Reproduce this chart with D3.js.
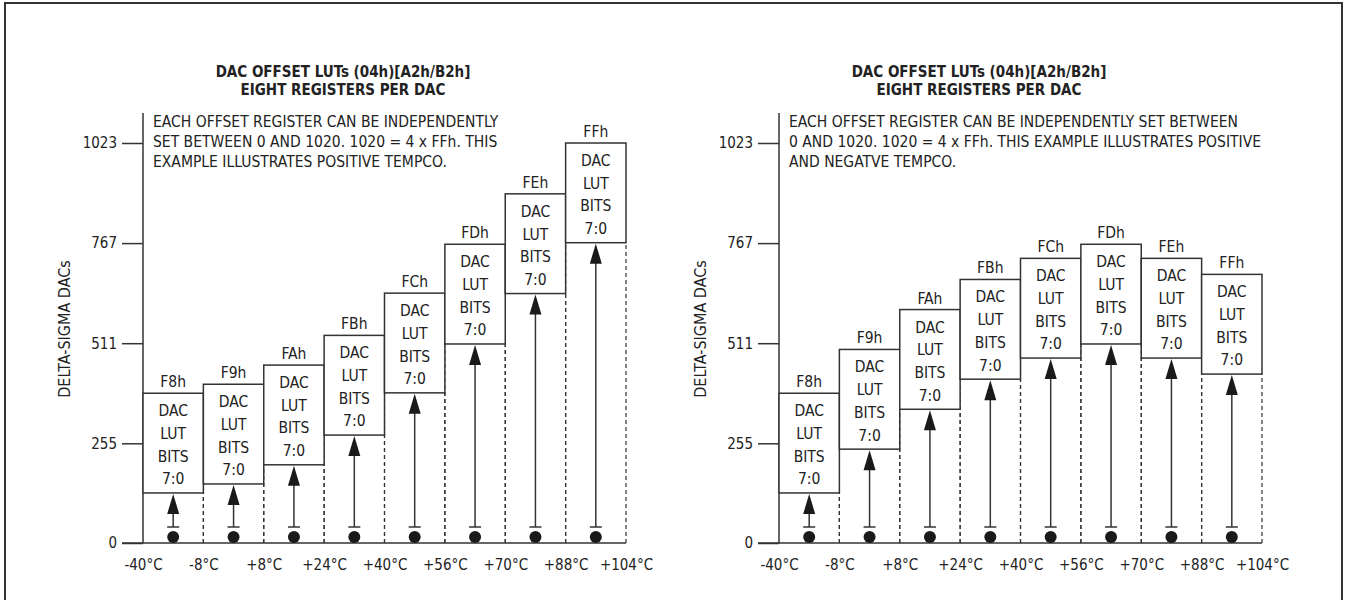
<!DOCTYPE html>
<html>
<head>
<meta charset="utf-8">
<script src="https://cdn.jsdelivr.net/npm/d3@7"></script>
<style>
  body { margin: 0; background: #fff; }
  text { font-family: "Liberation Sans Narrow", "DejaVu Sans Condensed", "Arial Narrow", sans-serif; fill: #222; }
</style>
</head>
<body>
<script>
// values
var tempLabels = ["-40°C", "-8°C", "+8°C", "+24°C", "+40°C", "+56°C", "+70°C", "+88°C", "+104°C"];
var registers = ["F8h", "F9h", "FAh", "FBh", "FCh", "FDh", "FEh", "FFh"];
var positiveOffsets = [128, 151, 200, 276, 384, 509, 638, 768]; // left chart, box bottoms
var mixedOffsets = [128, 240, 342, 419, 473, 509, 473, 432];    // right chart, box bottoms
var lutSpan = 255;
var yTicks = [0, 255, 511, 767, 1023];
var boxLines = ["DAC", "LUT", "BITS", "7:0"];
var titleLines = ["DAC OFFSET LUTs (04h)[A2h/B2h]", "EIGHT REGISTERS PER DAC"];
var leftNote = ["EACH OFFSET REGISTER CAN BE INDEPENDENTLY",
                "SET BETWEEN 0 AND 1020. 1020 = 4 x FFh. THIS",
                "EXAMPLE ILLUSTRATES POSITIVE TEMPCO."];
var rightNote = ["EACH OFFSET REGISTER CAN BE INDEPENDENTLY SET BETWEEN",
                 "0 AND 1020. 1020 = 4 x FFh. THIS EXAMPLE ILLUSTRATES POSITIVE",
                 "AND NEGATVE TEMPCO."];

var ink = '#333';

var svg = d3.select('body').append('svg')
    .attr('width', 1345)
    .attr('height', 600);

// outer frame
svg.append('rect')
    .attr('x', 5).attr('y', 3)
    .attr('width', 1337).attr('height', 640)
    .attr('fill', 'none')
    .attr('stroke', ink)
    .attr('stroke-width', 2);

var y = d3.scaleLinear().domain([0, 1023]).range([543, 143]);

function drawPanel(x0, offsets, note) {
    var x = d3.scalePoint().domain(tempLabels).range([x0, x0 + 483]);
    var colW = x.step();
    var g = svg.append('g');

    // title
    g.append('text')
        .attr('x', x0 + 200).attr('y', 77)
        .attr('text-anchor', 'middle')
        .style('font-weight', 'bold')
        .style('font-size', '15px')
        .selectAll('tspan').data(titleLines).enter().append('tspan')
        .attr('x', x0 + 200)
        .attr('dy', function(d, i){ return i ? 18 : 0; })
        .text(function(d){ return d; });

    // note
    g.append('text')
        .attr('y', 127)
        .style('font-size', '15.5px')
        .selectAll('tspan').data(note).enter().append('tspan')
        .attr('x', x0 + 10)
        .attr('dy', function(d, i){ return i ? 20 : 0; })
        .text(function(d){ return d; });

    // y axis label
    g.append('text')
        .attr('transform', 'translate(' + (x0 - 73) + ',' + 329 + ') rotate(-90)')
        .attr('text-anchor', 'middle')
        .style('font-size', '16px')
        .text('DELTA-SIGMA DACs');

    // y axis
    var yAxis = g.append('g')
        .attr('transform', 'translate(' + x0 + ',0)')
        .call(d3.axisLeft(y).tickValues(yTicks).tickSize(21).tickPadding(5).tickFormat(d3.format('d')));
    yAxis.select('.domain').remove();
    yAxis.selectAll('line').attr('stroke', ink).attr('stroke-width', 1.5);
    yAxis.selectAll('text').style('font-size', '15px').attr('fill', '#222');

    g.append('line')
        .attr('x1', x0).attr('x2', x0)
        .attr('y1', 113).attr('y2', y(0))
        .attr('stroke', ink).attr('stroke-width', 1.5);

    // x axis
    var xAxis = g.append('g')
        .attr('transform', 'translate(0,' + y(0) + ')')
        .call(d3.axisBottom(x).tickSize(0).tickPadding(16));
    xAxis.select('.domain').remove();
    xAxis.selectAll('text').style('font-size', '15px').attr('fill', '#222');

    g.append('line')
        .attr('x1', x0 - 21).attr('x2', x(tempLabels[tempLabels.length - 1]))
        .attr('y1', y(0)).attr('y2', y(0))
        .attr('stroke', ink).attr('stroke-width', 1.5);

    var cols = registers.map(function(r, i){
        return { reg: r, lo: offsets[i], left: x(tempLabels[i]), right: x(tempLabels[i + 1]) };
    });

    // dashed guides from axis up to box corners
    cols.forEach(function(c){
        [c.left, c.right].forEach(function(xx){
            if (xx === x0) return;
            g.append('line')
                .attr('x1', xx).attr('x2', xx)
                .attr('y1', y(0)).attr('y2', y(c.lo))
                .attr('stroke', ink).attr('stroke-width', 1.2)
                .attr('stroke-dasharray', '4,3');
        });
    });

    var col = g.selectAll('.col').data(cols).enter().append('g').attr('class', 'col');

    col.append('rect')
        .attr('x', function(d){ return d.left; })
        .attr('y', function(d){ return y(d.lo + lutSpan); })
        .attr('width', colW)
        .attr('height', function(d){ return y(d.lo) - y(d.lo + lutSpan); })
        .attr('fill', '#fff')
        .attr('stroke', ink)
        .attr('stroke-width', 1.5);

    col.append('text')
        .attr('x', function(d){ return d.left + colW / 2; })
        .attr('y', function(d){ return y(d.lo + lutSpan) - 6; })
        .attr('text-anchor', 'middle')
        .style('font-size', '15.5px')
        .text(function(d){ return d.reg; });

    col.each(function(d){
        var cx = d.left + colW / 2, top = y(d.lo + lutSpan), bot = y(d.lo);
        var c = d3.select(this);
        boxLines.forEach(function(t, i){
            c.append('text')
                .attr('x', cx)
                .attr('y', top + 23 + i * 22.7)
                .attr('text-anchor', 'middle')
                .style('font-size', '15.5px')
                .text(t);
        });
        // arrow from the dot up to the box bottom
        c.append('line')
            .attr('x1', cx).attr('x2', cx)
            .attr('y1', y(0) - 16).attr('y2', bot + 18)
            .attr('stroke', ink).attr('stroke-width', 1.5);
        c.append('path')
            .attr('d', 'M' + cx + ',' + (bot + 1) + 'L' + (cx + 6) + ',' + (bot + 21) + 'L' + (cx - 6) + ',' + (bot + 21) + 'Z')
            .attr('fill', '#1a1a1a');
        c.append('line')
            .attr('x1', cx - 6).attr('x2', cx + 6)
            .attr('y1', y(0) - 16).attr('y2', y(0) - 16)
            .attr('stroke', ink).attr('stroke-width', 1.5);
        c.append('circle')
            .attr('cx', cx).attr('cy', y(0) - 6)
            .attr('r', 6)
            .attr('fill', '#1a1a1a');
    });
}

drawPanel(143, positiveOffsets, leftNote);
drawPanel(779, mixedOffsets, rightNote);
</script>
</body>
</html>
